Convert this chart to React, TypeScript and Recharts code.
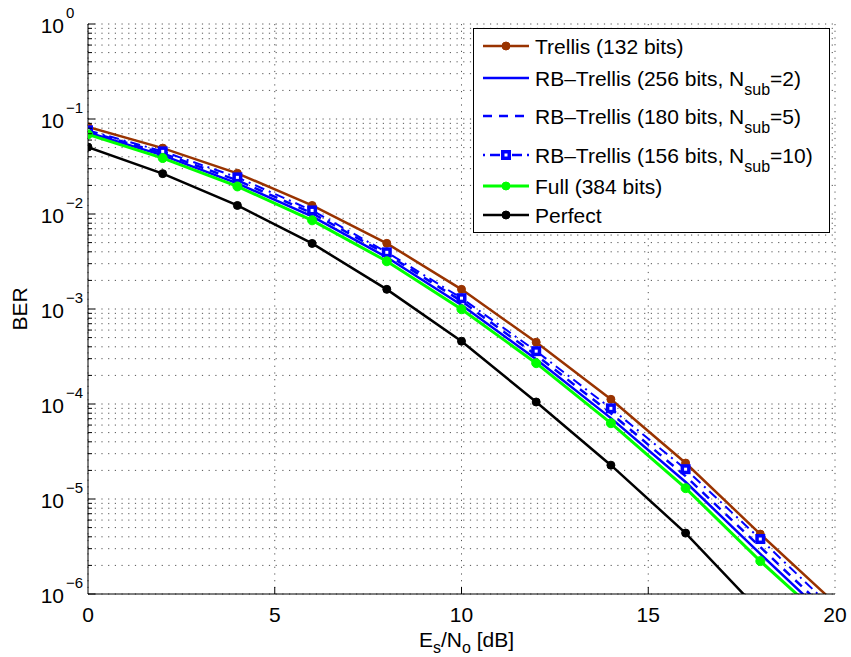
import React from "react"
import { LineChart, Line, XAxis, YAxis, CartesianGrid, Legend } from "recharts"

const FONT = "'Liberation Sans', Arial, Helvetica, sans-serif"

// Es/No [dB]
const snr = [0, 2, 4, 6, 8, 10, 12, 14, 16, 18, 20]

// BER
const trellis132 = [0.0826, 0.0494, 0.0268, 0.0123, 0.00491, 0.00161, 4.47e-4, 1.12e-4, 2.39e-5, 4.27e-6, 8.0e-7]
const rb256 = [0.0722, 0.0414, 0.021, 0.00945, 0.0035, 0.0011, 2.96e-4, 7.1e-5, 1.51e-5, 2.64e-6, 4.8e-7]
const rb180 = [0.074, 0.0435, 0.0226, 0.0102, 0.00377, 0.00121, 3.27e-4, 8.0e-5, 1.74e-5, 3.12e-6, 5.6e-7]
const rb156 = [0.0759, 0.0456, 0.0243, 0.0109, 0.00395, 0.0013, 3.6e-4, 9.0e-5, 2.06e-5, 3.79e-6, 6.7e-7]
const full384 = [0.0689, 0.0388, 0.0195, 0.00858, 0.00318, 9.94e-4, 2.69e-4, 6.28e-5, 1.3e-5, 2.22e-6, 4.3e-7]
const perfect = [0.0506, 0.0266, 0.0123, 0.0049, 0.00161, 4.58e-4, 1.05e-4, 2.27e-5, 4.38e-6, 6.5e-7]

const xTicks = [0, 5, 10, 15, 20]
const decades = [1e-6, 1e-5, 1e-4, 1e-3, 1e-2, 1e-1, 1]
const mantissas = [2, 3, 4, 5, 6, 7, 8, 9]
const yTicks = decades.flatMap(d => (d === 1 ? [1] : [d, ...mantissas.map(m => m * d)]))

const rows = snr.map((s, i) => ({
  snr: s,
  trellis: trellis132[i],
  rb256: rb256[i],
  rb180: rb180[i],
  rb156: rb156[i],
  full: full384[i],
  perfect: perfect[i],
}))

const BROWN = "#993300"
const BLUE = "#0000ff"
const GREEN = "#00ff00"

const legendItems = [
  { label: "Trellis (132 bits)", nsub: null, color: BROWN, width: 2.5, dash: undefined, marker: "circle", y: 17 },
  { label: "RB–Trellis (256 bits, N", nsub: "2", color: BLUE, width: 2.5, dash: undefined, marker: null, y: 49 },
  { label: "RB–Trellis (180 bits, N", nsub: "5", color: BLUE, width: 2.5, dash: "9 7", marker: null, y: 87 },
  { label: "RB–Trellis (156 bits, N", nsub: "10", color: BLUE, width: 2.5, dash: "2 5 10 5", marker: "square", y: 126 },
  { label: "Full (384 bits)", nsub: null, color: GREEN, width: 3, dash: undefined, marker: "circle", y: 157 },
  { label: "Perfect", nsub: null, color: "#000", width: 2.5, dash: undefined, marker: "circle", y: 186 },
]

const isMajor = (v: number) => {
  const l = Math.log10(v)
  return Math.abs(l - Math.round(l)) < 1e-6
}

const LeftTick = (props: any) => {
  const { x, y, payload } = props
  const v = payload.value
  const major = isMajor(v)
  const e = Math.round(Math.log10(v))
  return (
    <g>
      <line x1={x} x2={x + (major ? 7 : 4)} y1={y} y2={y} stroke="#000" />
      {major && (
        <>
          <text x={x - 24} y={y + 8.5} textAnchor="end" fontSize={21} fontFamily={FONT} fill="#000">10</text>
          <text x={x - 22} y={y - 6} textAnchor="start" fontSize={15} fontFamily={FONT} fill="#000">
            {e === 0 ? "0" : "−" + -e}
          </text>
        </>
      )}
    </g>
  )
}

const RightTick = (props: any) => {
  const { x, y, payload } = props
  const major = isMajor(payload.value)
  return <line x1={x} x2={x - (major ? 7 : 4)} y1={y} y2={y} stroke="#000" />
}

const BottomTick = (props: any) => {
  const { x, y, payload } = props
  const inner = payload.value > 0 && payload.value < 20
  return (
    <g>
      {inner && <line x1={x} x2={x} y1={y} y2={y - 7} stroke="#000" />}
      <text x={x} y={y + 28} textAnchor="middle" fontSize={21} fontFamily={FONT} fill="#000">{payload.value}</text>
    </g>
  )
}

const TopTick = (props: any) => {
  const { x, y, payload } = props
  if (payload.value <= 0 || payload.value >= 20) return <g />
  return <line x1={x} x2={x} y1={y} y2={y + 7} stroke="#000" />
}

const XLabel = (props: any) => {
  const vb = props.viewBox || { x: 88, y: 594, width: 747, height: 63 }
  return (
    <text x={vb.x + vb.width / 2 + 5} y={vb.y + 53} textAnchor="middle" fontSize={21} fontFamily={FONT} fill="#000">
      E<tspan fontSize={16} dy={6}>s</tspan>
      <tspan dy={-6}>/N</tspan>
      <tspan fontSize={16} dy={6}>o</tspan>
      <tspan dy={-6}> [dB]</tspan>
    </text>
  )
}

const YLabel = (props: any) => {
  const vb = props.viewBox || { x: 0, y: 24, width: 88, height: 570 }
  const cx = vb.x + 27
  const cy = vb.y + vb.height / 2
  return (
    <text x={cx} y={cy} transform={`rotate(-90, ${cx}, ${cy})`} textAnchor="middle" fontSize={21} fontFamily={FONT} fill="#000">
      BER
    </text>
  )
}

const SquareDot = (props: any) => {
  const { cx, cy, index } = props
  if (cx == null || cy == null || isNaN(cy)) return <g key={`sq-${index}`} />
  return <rect key={`sq-${index}`} x={cx - 3.25} y={cy - 3.25} width={6.5} height={6.5} fill="#fff" stroke={BLUE} strokeWidth={3.5} />
}

const LegendBox = () => (
  <div
    style={{
      position: "relative",
      width: 355,
      height: 203,
      border: "1px solid #000",
      background: "#fff",
      fontFamily: FONT,
      fontSize: 21,
      color: "#000",
    }}
  >
    {legendItems.map(it => (
      <div key={it.label + it.nsub} style={{ position: "absolute", left: 9, top: it.y - 11, height: 22, display: "flex", alignItems: "center" }}>
        <svg width={46} height={14} style={{ overflow: "visible", marginRight: 6 }}>
          <line x1={0} x2={46} y1={7} y2={7} stroke={it.color} strokeWidth={it.width} strokeDasharray={it.dash} />
          {it.marker === "circle" && <circle cx={23} cy={7} r={4} fill={it.color} stroke={it.color} />}
          {it.marker === "square" && <rect x={19.75} y={3.75} width={6.5} height={6.5} fill="#fff" stroke={BLUE} strokeWidth={3.5} />}
        </svg>
        <span style={{ whiteSpace: "nowrap", lineHeight: 1 }}>
          {it.label}
          {it.nsub && (
            <>
              <span style={{ fontSize: 16, position: "relative", top: 9 }}>sub</span>={it.nsub})
            </>
          )}
        </span>
      </div>
    ))}
  </div>
)

export default function App() {
  return (
    <div style={{ position: "absolute", left: 0, top: 0, width: 851, height: 657, background: "#fff" }}>
      <LineChart
        width={851}
        height={657}
        data={rows}
        margin={{ top: 24, right: 16, bottom: 0, left: 0 }}
        style={{ fontFamily: FONT }}
      >
        <CartesianGrid stroke="#555" strokeDasharray="1.2 5.5" horizontal vertical />
        <XAxis
          dataKey="snr"
          type="number"
          domain={[0, 20]}
          ticks={xTicks}
          interval={0}
          allowDataOverflow
          height={63}
          tickSize={0}
          tickMargin={0}
          tickLine={false}
          axisLine={{ stroke: "#000" }}
          tick={<BottomTick />}
          label={(p: any) => <XLabel {...p} />}
        />
        <XAxis
          xAxisId="top"
          orientation="top"
          dataKey="snr"
          type="number"
          domain={[0, 20]}
          ticks={xTicks}
          interval={0}
          allowDataOverflow
          height={0}
          tickSize={0}
          tickMargin={0}
          tickLine={false}
          axisLine={{ stroke: "#000" }}
          tick={<TopTick />}
        />
        <YAxis
          scale="log"
          type="number"
          domain={[1e-6, 1]}
          ticks={yTicks}
          interval={0}
          allowDataOverflow
          width={88}
          tickSize={0}
          tickMargin={0}
          tickLine={false}
          axisLine={{ stroke: "#000" }}
          tick={<LeftTick />}
          label={(p: any) => <YLabel {...p} />}
        />
        <YAxis
          yAxisId="right"
          orientation="right"
          scale="log"
          type="number"
          domain={[1e-6, 1]}
          ticks={yTicks}
          interval={0}
          allowDataOverflow
          width={0}
          tickSize={0}
          tickMargin={0}
          tickLine={false}
          axisLine={{ stroke: "#000" }}
          tick={<RightTick />}
        />
        <Legend
          layout="vertical"
          align="center"
          verticalAlign="middle"
          content={() => <LegendBox />}
          wrapperStyle={{ left: 473, top: 28, width: 357, height: 205 }}
        />
        <Line
          dataKey="trellis"
          stroke={BROWN}
          strokeWidth={2.5}
          dot={{ r: 4, fill: BROWN, stroke: BROWN, strokeWidth: 1 }}
          activeDot={false}
          isAnimationActive={false}
        />
        <Line dataKey="rb256" stroke={BLUE} strokeWidth={2.5} dot={false} activeDot={false} isAnimationActive={false} />
        <Line dataKey="rb180" stroke={BLUE} strokeWidth={2.5} strokeDasharray="9 7" dot={false} activeDot={false} isAnimationActive={false} />
        <Line
          dataKey="rb156"
          stroke={BLUE}
          strokeWidth={2}
          strokeDasharray="10 5 2 5"
          dot={SquareDot}
          activeDot={false}
          isAnimationActive={false}
        />
        <Line
          dataKey="full"
          stroke={GREEN}
          strokeWidth={3}
          dot={{ r: 4.5, fill: GREEN, stroke: GREEN, strokeWidth: 1 }}
          activeDot={false}
          isAnimationActive={false}
        />
        <Line
          dataKey="perfect"
          stroke="#000"
          strokeWidth={2.5}
          dot={{ r: 4, fill: "#000", stroke: "#000", strokeWidth: 1 }}
          activeDot={false}
          isAnimationActive={false}
        />
      </LineChart>
    </div>
  )
}
